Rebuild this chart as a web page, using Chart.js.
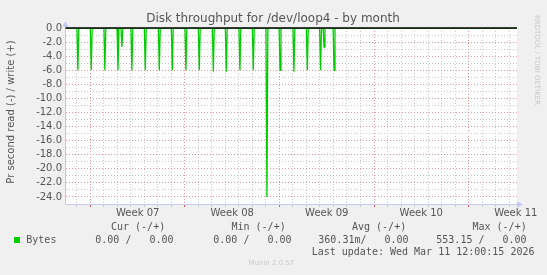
<!DOCTYPE html>
<html>
<head>
<meta charset="utf-8">
<script src="https://cdn.jsdelivr.net/npm/chart.js@4/dist/chart.umd.min.js"></script>
<style>
  html, body { margin: 0; padding: 0; background: #f0f0f0; }
  #chart { display: block; }
</style>
</head>
<body>
<canvas id="chart" width="547" height="275"></canvas>
<script>
// days counted from the start of week 07
const spikeDays = [-0.93, 0.06, 1.07, 2.04, 2.33, 3.07, 4.06, 5.10, 6.06, 7.07, 8.06,
                   9.10, 10.06, 11.07, 12.06, 13.07, 14.04, 15.07, 16.06, 17.04, 17.30, 18.04];
const spikeValues = [-6.0, -6.0, -6.0, -6.0, -2.7, -6.0, -6.0, -6.0, -6.0, -6.0, -6.0,
                     -6.2, -6.2, -6.0, -6.0, -24.0, -6.0, -6.2, -6.0, -6.0, -2.7, -6.0];
const weekLabels = ['Week 07', 'Week 08', 'Week 09', 'Week 10', 'Week 11'];
const weekCenters = [3.5, 10.5, 17.5, 24.5, 31.5];
const xMin = -1.81, xMax = 31.59;
const yMin = -25, yMax = 0;

const legendHeaders = ['Cur (-/+)', 'Min (-/+)', 'Avg (-/+)', 'Max (-/+)'];
const legendValues = ['0.00 /   0.00', '0.00 /   0.00', '360.31m/   0.00', '553.15 /   0.00'];
const seriesName = 'Bytes';

// spikes on a flat zero line
const points = [{x: xMin, y: 0}];
spikeDays.forEach((d, i) => {
    points.push({x: d - 0.07, y: 0});
    points.push({x: d, y: spikeValues[i]});
    points.push({x: d + 0.07, y: 0});
});
points.push({x: xMax, y: 0});

const RED = 'rgba(225,130,130,0.8)';
const GRAY = 'rgba(190,190,190,0.8)';
const AXIS = '#c4caf4';

// backgrounds, axes, zero rule, arrows and the munin texts
const muninPlugin = {
    id: 'munin',
    beforeDraw(chart) {
        const c = chart.ctx, a = chart.chartArea;
        c.save();
        c.fillStyle = '#f0f0f0';
        c.fillRect(0, 0, chart.width, chart.height);
        c.fillStyle = '#ffffff';
        c.fillRect(a.left, a.top, a.right - a.left, a.bottom - a.top);
        c.restore();
    },
    beforeDatasetsDraw(chart) {
        const c = chart.ctx, a = chart.chartArea;
        c.save();
        c.strokeStyle = AXIS;
        c.lineWidth = 1;
        c.beginPath();
        c.moveTo(a.left - 0.5, a.top - 2);
        c.lineTo(a.left - 0.5, a.bottom + 0.5);
        c.lineTo(a.right + 1, a.bottom + 0.5);
        c.stroke();
        c.restore();
    },
    afterDatasetsDraw(chart) {
        // black HRULE at zero, on top of the data
        const c = chart.ctx;
        const y0 = chart.scales.y.getPixelForValue(0);
        c.save();
        c.strokeStyle = '#000';
        c.lineWidth = 1.3;
        c.beginPath();
        c.moveTo(chart.scales.x.getPixelForValue(xMin) - 0.5, y0);
        c.lineTo(chart.scales.x.getPixelForValue(xMax), y0);
        c.stroke();
        c.restore();
    },
    afterDraw(chart) {
        const c = chart.ctx, a = chart.chartArea;
        c.save();
        // axis arrows
        c.fillStyle = AXIS;
        c.beginPath();
        c.moveTo(a.left - 3.5, a.top - 1);
        c.lineTo(a.left + 2.5, a.top - 1);
        c.lineTo(a.left - 0.5, a.top - 7);
        c.fill();
        c.beginPath();
        c.moveTo(a.right, a.bottom - 2.5);
        c.lineTo(a.right, a.bottom + 3.5);
        c.lineTo(a.right + 6, a.bottom + 0.5);
        c.fill();

        // title
        c.fillStyle = '#555';
        c.font = '12px "DejaVu Sans"';
        c.textAlign = 'center';
        c.textBaseline = 'middle';
        c.fillText('Disk throughput for /dev/loop4 - by month', 273, 19);

        // y title
        c.save();
        c.translate(11, 112);
        c.rotate(-Math.PI / 2);
        c.font = '10px "DejaVu Sans"';
        c.fillText('Pr second read (-) / write (+)', 0, 0);
        c.restore();

        // rrdtool watermark
        c.save();
        c.translate(537, 60);
        c.rotate(Math.PI / 2);
        c.fillStyle = '#c8c8c8';
        c.font = '7px "DejaVu Sans"';
        c.fillText('RRDTOOL / TOBI OETIKER', 0, 0);
        c.restore();

        // legend
        c.font = '10px "DejaVu Sans Mono"';
        c.textAlign = 'left';
        c.fillStyle = '#555';
        const hx = [111, 231.5, 352, 472.5];
        const vx = [95.3, 213.3, 318.3, 436.3];
        legendHeaders.forEach((h, i) => c.fillText(h, hx[i], 227));
        legendValues.forEach((v, i) => c.fillText(v, vx[i], 240));
        c.fillText(seriesName, 26.3, 240);
        c.fillText('Last update: Wed Mar 11 12:00:15 2026', 311.7, 252);
        c.fillStyle = '#00cc00';
        c.fillRect(14, 237, 6, 6);

        c.fillStyle = '#c8c8c8';
        c.font = '7px "DejaVu Sans"';
        c.fillText('Munin 2.0.57', 248.5, 263.5);
        c.restore();
    }
};

new Chart(document.getElementById('chart').getContext('2d'), {
    type: 'line',
    data: {
        datasets: [{
            label: seriesName,
            data: points,
            borderColor: '#00cc00',
            borderWidth: 1.3,
            pointRadius: 0,
            tension: 0
        }]
    },
    options: {
        responsive: false,
        animation: false,
        layout: { padding: { top: 28, right: 30, left: 0, bottom: 0 } },
        plugins: {
            legend: { display: false },
            tooltip: { enabled: false },
            title: { display: false }
        },
        scales: {
            x: {
                type: 'linear',
                min: xMin,
                max: xMax,
                afterFit(scale) { scale.height = 71; },
                afterBuildTicks(scale) {
                    const t = [];
                    for (let d = -1; d <= 31; d++) t.push({value: d});
                    weekCenters.forEach(v => t.push({value: v}));
                    scale.ticks = t;
                },
                ticks: {
                    autoSkip: false,
                    maxRotation: 0,
                    padding: 0,
                    color: '#555',
                    font: { family: 'DejaVu Sans', size: 10 },
                    callback(v) {
                        const i = weekCenters.indexOf(v);
                        return i >= 0 ? weekLabels[i] : '';
                    }
                },
                grid: {
                    tickLength: 3,
                    color(ctx) {
                        const v = ctx.tick.value;
                        if (!Number.isInteger(v)) return 'rgba(0,0,0,0)';
                        return v % 7 === 0 ? RED : GRAY;
                    },
                    tickColor(ctx) {
                        const v = ctx.tick.value;
                        if (!Number.isInteger(v)) return 'rgba(0,0,0,0)';
                        return v % 7 === 0 ? '#e06060' : '#c8c8c8';
                    }
                },
                border: { display: false, dash: [1, 2] }
            },
            y: {
                min: yMin,
                max: yMax,
                afterFit(scale) { scale.width = 66; },
                afterBuildTicks(scale) {
                    const t = [];
                    for (let v = 0; v >= -24; v--) t.push({value: v});
                    scale.ticks = t;
                },
                ticks: {
                    autoSkip: false,
                    padding: 4,
                    color: '#555',
                    font: { family: 'DejaVu Sans', size: 10 },
                    callback(v) {
                        return v % 2 === 0 ? (v === 0 ? '0.0' : v.toFixed(1)) : '';
                    }
                },
                grid: {
                    drawTicks: false,
                    color(ctx) {
                        const v = ctx.tick.value;
                        if (v === 0) return 'rgba(0,0,0,0)';
                        return v % 2 === 0 ? RED : GRAY;
                    }
                },
                border: { display: false, dash: [1, 2] }
            }
        }
    },
    plugins: [muninPlugin]
});
</script>
</body>
</html>
